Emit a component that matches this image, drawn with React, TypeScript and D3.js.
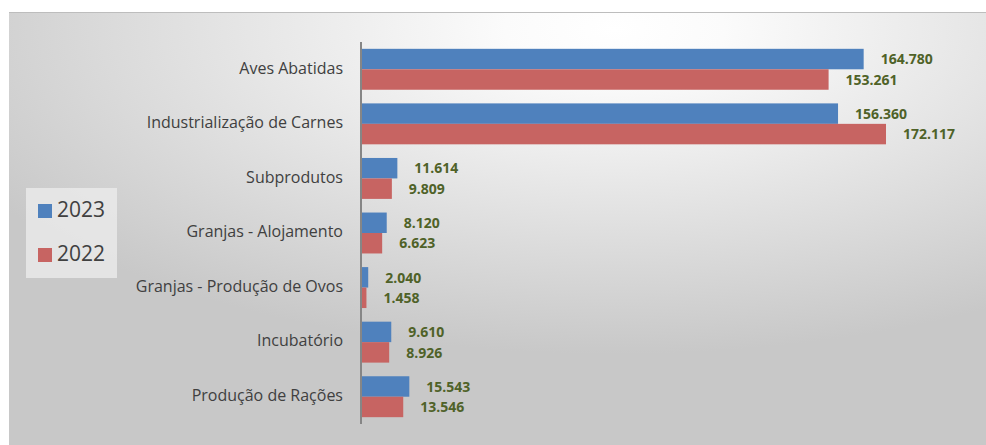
import React from "react";
import * as d3 from "d3";

const categories = [
  "Aves Abatidas",
  "Industrialização de Carnes",
  "Subprodutos",
  "Granjas - Alojamento",
  "Granjas - Produção de Ovos",
  "Incubatório",
  "Produção de Rações",
];
const seriesNames = ["2023", "2022"];
const values2023 = [164780, 156360, 11614, 8120, 2040, 9610, 15543];
const values2022 = [153261, 172117, 9809, 6623, 1458, 8926, 13546];
const seriesColors = ["#4f81bd", "#c76462"];

const W = 986;
const H = 445;

const locale = d3.formatLocale({ decimal: ",", thousands: ".", grouping: [3], currency: ["R$", ""] });
const fmt = locale.format(",.0f");

export default function App() {
  const x = d3.scaleLinear().domain([0, 180000]).range([362, 910]);
  const y = d3.scaleBand<string>().domain(categories).range([42, 424]).paddingInner(0.25).paddingOuter(0.125);
  const ys = d3.scaleBand<string>().domain(seriesNames).range([0, y.bandwidth()]);
  const data = [values2023, values2022];
  const font = "'Open Sans', sans-serif";

  return (
    <svg width={W} height={H} style={{ position: "absolute", left: 0, top: 0 }}>
      <defs>
        <radialGradient id="bg" cx="0.62" cy="0.04" r="0.75" fx="0.62" fy="0.04">
          <stop offset="0" stopColor="#ffffff" />
          <stop offset="0.15" stopColor="#fbfbfb" />
          <stop offset="1" stopColor="#c8c8c8" />
        </radialGradient>
      </defs>
      <rect x={0} y={0} width={W} height={H} fill="#ffffff" />
      <rect x={9} y={12} width={W - 9} height={H - 12} fill="url(#bg)" />
      <line x1={9} x2={W} y1={12.5} y2={12.5} stroke="#bdbdbd" strokeWidth={1} />

      {categories.map((c, i) => (
        <g key={c}>
          {seriesNames.map((s, j) => {
            const v = data[j][i];
            const by = (y(c) as number) + (ys(s) as number);
            const bh = ys.bandwidth();
            return (
              <g key={s}>
                <rect x={x(0)} y={by} width={x(v) - x(0)} height={bh} fill={seriesColors[j]} />
                <text
                  x={x(v) + 17}
                  y={by + bh / 2 + 1.5}
                  dominantBaseline="middle"
                  fontFamily={font}
                  fontWeight="bold"
                  fontSize={14}
                  fill="#4f6228"
                >
                  {fmt(v)}
                </text>
              </g>
            );
          })}
          <text
            x={343}
            y={(y(c) as number) + y.bandwidth() / 2}
            dominantBaseline="middle"
            textAnchor="end"
            fontFamily={font}
            fontSize={16}
            fill="#404040"
          >
            {c}
          </text>
        </g>
      ))}

      <line x1={361} x2={361} y1={42} y2={424} stroke="#868686" strokeWidth={2} />

      <rect x={26} y={188} width={91} height={90} fill="#ebebeb" opacity={0.8} />
      {seriesNames.map((s, j) => (
        <g key={s}>
          <rect x={38} y={204 + j * 44} width={14} height={14} fill={seriesColors[j]} />
          <text x={57} y={211 + j * 44} dominantBaseline="middle" fontFamily={font} fontSize={21} fill="#404040">
            {s}
          </text>
        </g>
      ))}
    </svg>
  );
}
